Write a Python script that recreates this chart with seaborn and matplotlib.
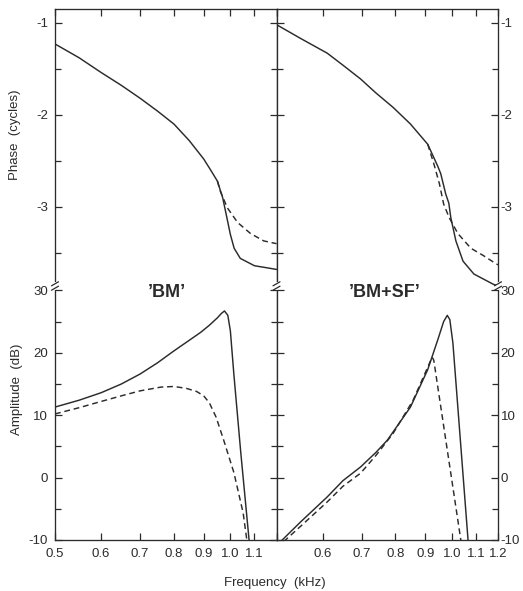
import matplotlib
matplotlib.use("Agg")
import matplotlib.pyplot as plt
import seaborn as sns
from matplotlib.ticker import FixedLocator, FixedFormatter, NullLocator

# ---- data: frequency (kHz) vs phase (cycles) and amplitude (dB) ----
# 'BM' model, phase
bm_phase_f = [0.50, 0.55, 0.60, 0.65, 0.70, 0.75, 0.80, 0.85, 0.90, 0.925, 0.95,
              0.97, 0.985, 1.00, 1.015, 1.04, 1.10, 1.15, 1.20]
bm_phase_solid = [-1.23, -1.38, -1.54, -1.68, -1.82, -1.96, -2.10, -2.28, -2.48, -2.60, -2.72,
                  -2.90, -3.10, -3.30, -3.45, -3.56, -3.64, -3.66, -3.68]
bm_phase_dash_f = [0.95, 0.961, 0.988, 1.029, 1.083, 1.141, 1.20]
bm_phase_dash = [-2.72, -2.83, -3.01, -3.17, -3.29, -3.37, -3.40]

# 'BM' model, amplitude
bm_amp_f = [0.50, 0.55, 0.60, 0.65, 0.70, 0.75, 0.80, 0.85, 0.89, 0.92, 0.95, 0.965,
            0.977, 0.99, 1.00, 1.014, 1.042, 1.078]
bm_amp_solid = [11.3, 12.4, 13.6, 15.0, 16.6, 18.4, 20.3, 22.0, 23.3, 24.4, 25.6, 26.3,
                26.7, 26.0, 23.5, 16.5, 4.0, -10.5]
bm_amp_dash_f = [0.50, 0.55, 0.60, 0.65, 0.70, 0.76, 0.80, 0.84, 0.875, 0.90, 0.92, 0.945,
                 0.974, 1.014, 1.052, 1.07]
bm_amp_dash = [10.2, 11.2, 12.2, 13.1, 13.9, 14.5, 14.6, 14.3, 13.8, 13.1, 12.0, 9.7,
               6.0, 0.8, -5.7, -10.8]

# 'BM+SF' model, phase
sf_phase_f = [0.50, 0.55, 0.611, 0.65, 0.697, 0.74, 0.793, 0.849, 0.909, 0.946, 0.957,
              0.976, 0.988, 0.996, 1.016, 1.045, 1.091, 1.177, 1.20]
sf_phase_solid = [-1.02, -1.17, -1.33, -1.46, -1.61, -1.76, -1.92, -2.10, -2.32, -2.56, -2.64,
                  -2.86, -2.96, -3.12, -3.37, -3.59, -3.73, -3.84, -3.86]
sf_phase_dash_f = [0.909, 0.931, 0.952, 0.968, 0.99, 1.024, 1.078, 1.133, 1.185, 1.20]
sf_phase_dash = [-2.32, -2.53, -2.75, -2.97, -3.12, -3.29, -3.45, -3.53, -3.61, -3.63]

# 'BM+SF' model, amplitude
sf_amp_f = [0.50, 0.55, 0.611, 0.65, 0.697, 0.74, 0.775, 0.849, 0.909, 0.946, 0.968,
            0.982, 0.992, 1.004, 1.066, 1.07]
sf_amp_solid = [-10.9, -7.1, -3.1, -0.5, 1.7, 4.0, 6.0, 11.3, 17.3, 22.1, 25.0,
                26.0, 25.3, 21.6, -10.0, -11.0]
sf_amp_dash_f = [0.50, 0.55, 0.611, 0.65, 0.697, 0.74, 0.793, 0.858, 0.909, 0.925,
                 0.931, 1.036, 1.04]
sf_amp_dash = [-11.3, -7.8, -3.9, -1.4, 0.7, 3.5, 7.1, 12.4, 17.7, 19.3,
               18.8, -10.0, -10.8]

# ---- axis ticks ----
x_ticks = [0.5, 0.6, 0.7, 0.8, 0.9, 1.0, 1.1, 1.2]
x_labels_left = ["0.5", "0.6", "0.7", "0.8", "0.9", "1.0", "1.1", ""]
x_labels_right = ["", "0.6", "0.7", "0.8", "0.9", "1.0", "1.1", "1.2"]
phase_major = [-3, -2, -1]
phase_minor = [-3.5, -2.5, -1.5]
amp_major = [-10, 0, 10, 20, 30]
amp_minor = [-5, 5, 15, 25]

sns.set_style("ticks")
plt.rcParams['font.family'] = ['Liberation Sans', 'DejaVu Sans']
plt.rcParams['axes.unicode_minus'] = False

INK = "#2b2b2b"
W, H = 523, 591
fig = plt.figure(figsize=(W / 100, H / 100), dpi=100)

x_left, x_mid, x_right = 55, 276.5, 498
y_top, y_join, y_bot = 9, 286, 540


def box(x0, x1, y0, y1):
    return [x0 / W, 1 - y1 / H, (x1 - x0) / W, (y1 - y0) / H]


ax_pl = fig.add_axes(box(x_left, x_mid, y_top, y_join))
ax_pr = fig.add_axes(box(x_mid, x_right, y_top, y_join))
ax_al = fig.add_axes(box(x_left, x_mid, y_join, y_bot))
ax_ar = fig.add_axes(box(x_mid, x_right, y_join, y_bot))

line_kw = dict(color=INK, linewidth=1.05)
dash_kw = dict(color=INK, linewidth=1.05, dashes=(4, 2.6))

sns.lineplot(x=bm_phase_f, y=bm_phase_solid, ax=ax_pl, **line_kw)
sns.lineplot(x=bm_phase_dash_f, y=bm_phase_dash, ax=ax_pl, **dash_kw)
sns.lineplot(x=sf_phase_f, y=sf_phase_solid, ax=ax_pr, **line_kw)
sns.lineplot(x=sf_phase_dash_f, y=sf_phase_dash, ax=ax_pr, **dash_kw)
sns.lineplot(x=bm_amp_f, y=bm_amp_solid, ax=ax_al, **line_kw)
sns.lineplot(x=bm_amp_dash_f, y=bm_amp_dash, ax=ax_al, **dash_kw)
sns.lineplot(x=sf_amp_f, y=sf_amp_solid, ax=ax_ar, **line_kw)
sns.lineplot(x=sf_amp_dash_f, y=sf_amp_dash, ax=ax_ar, **dash_kw)

for ax in (ax_pl, ax_pr, ax_al, ax_ar):
    ax.set_xscale("log")
    ax.set_xlim(0.5, 1.2)
    ax.xaxis.set_major_locator(FixedLocator(x_ticks))
    ax.xaxis.set_minor_locator(NullLocator())
    ax.set_xlabel("")
    ax.set_ylabel("")
    for s in ax.spines.values():
        s.set_color(INK)
        s.set_linewidth(0.95)
    ax.tick_params(which="both", direction="in", color=INK, width=0.9,
                   labelsize=9.5, labelcolor=INK)
    ax.tick_params(which="major", length=5)
    ax.tick_params(which="minor", length=4)
    ax.tick_params(axis="y", which="both", left=True, right=True, pad=5)

for ax in (ax_pl, ax_pr):
    ax.set_ylim(-3.86, -0.85)
    ax.yaxis.set_major_locator(FixedLocator(phase_major))
    ax.yaxis.set_minor_locator(FixedLocator(phase_minor))
    ax.spines["bottom"].set_visible(False)
    ax.tick_params(axis="x", which="both", bottom=False, top=True,
                   labelbottom=False, labeltop=False)

for ax in (ax_al, ax_ar):
    ax.set_ylim(-10, 30.7)
    ax.yaxis.set_major_locator(FixedLocator(amp_major))
    ax.yaxis.set_minor_locator(FixedLocator(amp_minor))
    ax.spines["top"].set_visible(False)
    ax.tick_params(axis="x", which="both", bottom=True, top=False, pad=6)

ax_al.xaxis.set_major_formatter(FixedFormatter(x_labels_left))
ax_ar.xaxis.set_major_formatter(FixedFormatter(x_labels_right))

for ax in (ax_pl, ax_al):
    ax.tick_params(axis="y", labelleft=True, labelright=False)
for ax in (ax_pr, ax_ar):
    ax.tick_params(axis="y", labelleft=False, labelright=True, pad=2)

# model names
ax_al.text(0.505, 0.975, "’BM’", transform=ax_al.transAxes, ha="center",
           va="center", fontsize=13, fontweight="bold", color=INK)
ax_ar.text(0.49, 0.975, "’BM+SF’", transform=ax_ar.transAxes, ha="center",
           va="center", fontsize=13, fontweight="bold", color=INK)

# axis titles
fig.text(15 / W, 1 - 135 / H, "Phase  (cycles)", rotation=90, ha="center",
         va="center", fontsize=9.5, color=INK)
fig.text(17 / W, 1 - 389 / H, "Amplitude  (dB)", rotation=90, ha="center",
         va="center", fontsize=9.5, color=INK)
fig.text(275 / W, 1 - 583 / H, "Frequency  (kHz)", ha="center", va="center",
         fontsize=9.5, color=INK)

# axis-break marks where the phase and amplitude scales meet
for xb in (x_left, x_mid, x_right):
    gap = matplotlib.lines.Line2D([xb / W, xb / W], [1 - (y_join - 2.2) / H, 1 - (y_join + 2.2) / H],
                                  transform=fig.transFigure, color="white", linewidth=3,
                                  zorder=10)
    fig.lines.append(gap)
    for dy in (-2.2, 2.2):
        stroke = matplotlib.lines.Line2D([(xb - 3.5) / W, (xb + 3.5) / W],
                                         [1 - (y_join + dy + 2) / H, 1 - (y_join + dy - 2) / H],
                                         transform=fig.transFigure, color=INK,
                                         linewidth=0.9, zorder=11)
        fig.lines.append(stroke)

fig.savefig("out.png", dpi=100)
